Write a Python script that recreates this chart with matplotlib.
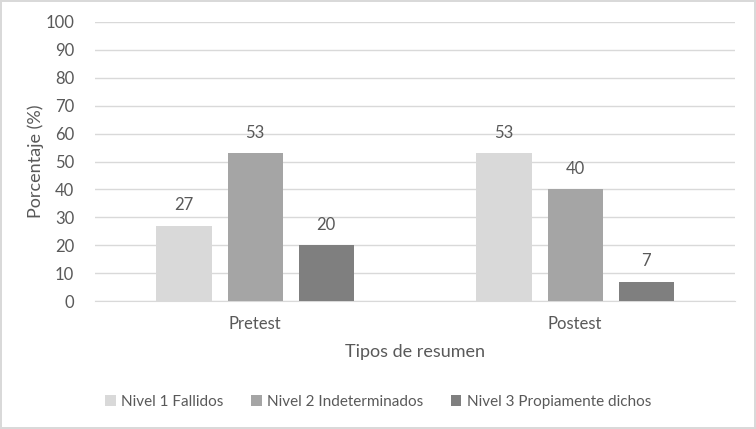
import matplotlib.pyplot as plt
import numpy as np

plt.rcParams['font.family'] = ['Lato', 'DejaVu Sans']

# data
grupos = ["Pretest", "Postest"]
series = ["Nivel 1 Fallidos", "Nivel 2 Indeterminados", "Nivel 3 Propiamente dichos"]
nivel1 = [27, 53]
nivel2 = [53, 40]
nivel3 = [20, 7]
colores = ["#d9d9d9", "#a5a5a5", "#7f7f7f"]

gris = "#595959"

fig = plt.figure(figsize=(7.56, 4.29), dpi=100)
fig.patch.set_edgecolor("#d9d9d9")
fig.patch.set_linewidth(1.5)
ax = fig.add_axes([0.1257, 0.298, 0.8466, 0.651])

x = np.arange(len(grupos))
ancho = 0.172
paso = 0.222
for i, (vals, nombre) in enumerate(zip([nivel1, nivel2, nivel3], series)):
    barras = ax.bar(x + (i - 1) * paso, vals, ancho, color=colores[i], label=nombre, zorder=3)
    ax.bar_label(barras, padding=9, color=gris, fontsize=12)

ax.set_xlim(-0.5, 1.5)
ax.set_ylim(0, 100)
ax.set_yticks(range(0, 101, 10))
ax.set_xticks(x)
ax.set_xticklabels(grupos)
ax.grid(axis="y", color="#d9d9d9", linewidth=1, zorder=0)
for s in ["top", "right", "left"]:
    ax.spines[s].set_visible(False)
ax.spines["bottom"].set_color("#d9d9d9")
ax.tick_params(axis="both", length=0, colors=gris, labelsize=12)
ax.tick_params(axis="x", pad=11)
ax.tick_params(axis="y", pad=15)
ax.set_xlabel("Tipos de resumen", color=gris, fontsize=13, labelpad=8)
ax.set_ylabel("Porcentaje (%)", color=gris, fontsize=13, labelpad=1)

leg = fig.legend(loc="center", bbox_to_anchor=(0.5, 0.063), ncol=3, frameon=False,
                 fontsize=11, handlelength=0.7, handleheight=0.7, handletextpad=0.35,
                 columnspacing=1.8)
for t in leg.get_texts():
    t.set_color(gris)

fig.savefig("out.png", dpi=100)
